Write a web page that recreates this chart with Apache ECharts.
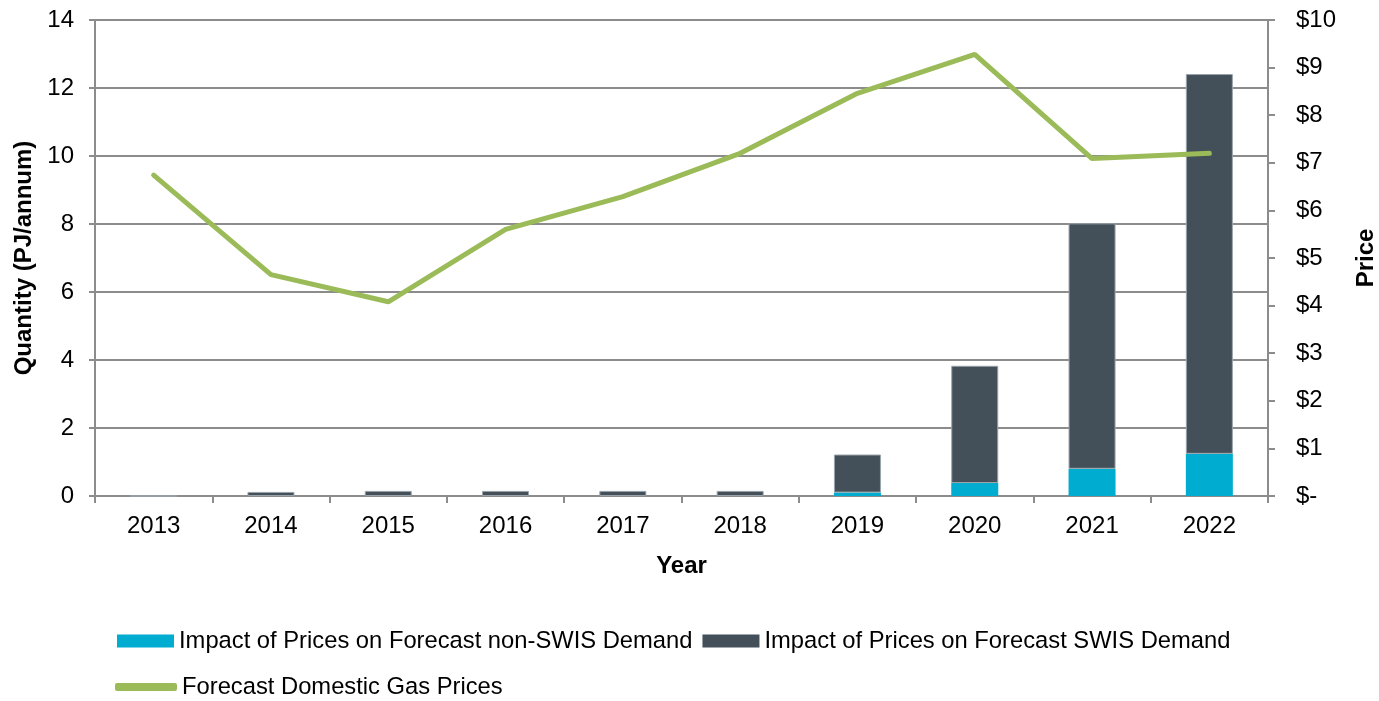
<!DOCTYPE html>
<html>
<head>
<meta charset="utf-8">
<script src="https://cdn.jsdelivr.net/npm/echarts@6/dist/echarts.min.js"></script>
<style>
  html, body { margin: 0; padding: 0; background: #fff; }
  #chart { width: 1379px; height: 701px; }
</style>
</head>
<body>
<div id="chart"></div>
<script>
// data
const years = ["2013", "2014", "2015", "2016", "2017", "2018", "2019", "2020", "2021", "2022"];
const nonSwis = [0, 0, 0, 0, 0, 0, 0.1, 0.38, 0.8, 1.24];
const swis = [0, 0.12, 0.15, 0.15, 0.15, 0.15, 1.12, 3.45, 7.22, 11.17];
const gasPrice = [6.74, 4.65, 4.08, 5.6, 6.29, 7.2, 8.46, 9.28, 7.09, 7.2];

const FONT = "Liberation Sans";
const axisGrey = "#8c8c8c";
const FS = 24;

let myChart = echarts.init(document.getElementById("chart"));
let option = {
  animation: false,
  textStyle: { fontFamily: FONT },
  grid: { left: 95, right: 111, top: 20, bottom: 205, containLabel: false, outerBoundsMode: "none" },
  legend: [
    {
      left: 112, top: 624,
      itemWidth: 57, itemHeight: 13, itemGap: 10,
      icon: "rect",
      itemStyle: { borderWidth: 0 },
      textStyle: { fontSize: 23.75, color: "#000", fontFamily: FONT },
      data: ["Impact of Prices on Forecast non-SWIS Demand", "Impact of Prices on Forecast SWIS Demand"]
    },
    {
      left: 110, top: 670,
      itemWidth: 62, itemHeight: 8,
      icon: "roundRect",
      textStyle: { fontSize: 23.75, color: "#000", fontFamily: FONT },
      data: ["Forecast Domestic Gas Prices"]
    }
  ],
  xAxis: {
    type: "category",
    data: years,
    name: "Year",
    nameLocation: "middle",
    nameGap: 58,
    nameTextStyle: { fontSize: FS, fontWeight: "bold", color: "#000" },
    axisLine: { lineStyle: { color: axisGrey, width: 2 } },
    axisTick: { show: true, length: 7, lineStyle: { color: axisGrey, width: 2 } },
    axisLabel: { fontSize: FS, color: "#000", margin: 18 }
  },
  yAxis: [
    {
      type: "value",
      min: 0, max: 14, interval: 2,
      name: "Quantity (PJ/annum)",
      nameLocation: "middle",
      nameGap: 55,
      nameTextStyle: { fontSize: FS, fontWeight: "bold", color: "#000" },
      axisLine: { show: true, lineStyle: { color: axisGrey, width: 2 } },
      axisTick: { show: true, length: 6, lineStyle: { color: axisGrey, width: 2 } },
      axisLabel: { fontSize: FS, color: "#000", margin: 21 },
      splitLine: { show: true, lineStyle: { color: axisGrey, width: 2 } }
    },
    {
      type: "value",
      min: 0, max: 10, interval: 1,
      position: "right",
      name: "Price",
      nameLocation: "middle",
      nameRotate: 90,
      nameGap: 86,
      nameTextStyle: { fontSize: FS, fontWeight: "bold", color: "#000" },
      axisLine: { show: true, lineStyle: { color: axisGrey, width: 2 } },
      axisTick: { show: true, length: 7, lineStyle: { color: axisGrey, width: 2 } },
      axisLabel: {
        fontSize: FS, color: "#000", margin: 28,
        formatter: (v) => (v === 0 ? "$-" : "$" + v)
      },
      splitLine: { show: false }
    }
  ],
  series: [
    {
      name: "Impact of Prices on Forecast non-SWIS Demand",
      type: "bar",
      stack: "q",
      barWidth: 47,
      itemStyle: { color: "#00ACD0" },
      data: nonSwis
    },
    {
      name: "Impact of Prices on Forecast SWIS Demand",
      type: "bar",
      stack: "q",
      barWidth: 47,
      itemStyle: { color: "#434F59", borderColor: "#9aa3aa", borderWidth: 1 },
      data: swis
    },
    {
      name: "Forecast Domestic Gas Prices",
      type: "line",
      yAxisIndex: 1,
      showSymbol: false,
      symbol: "none",
      lineStyle: { color: "#9BBB59", width: 5, cap: "round" },
      itemStyle: { color: "#9BBB59" },
      data: gasPrice
    }
  ]
};
myChart.setOption(option);
</script>
</body>
</html>
